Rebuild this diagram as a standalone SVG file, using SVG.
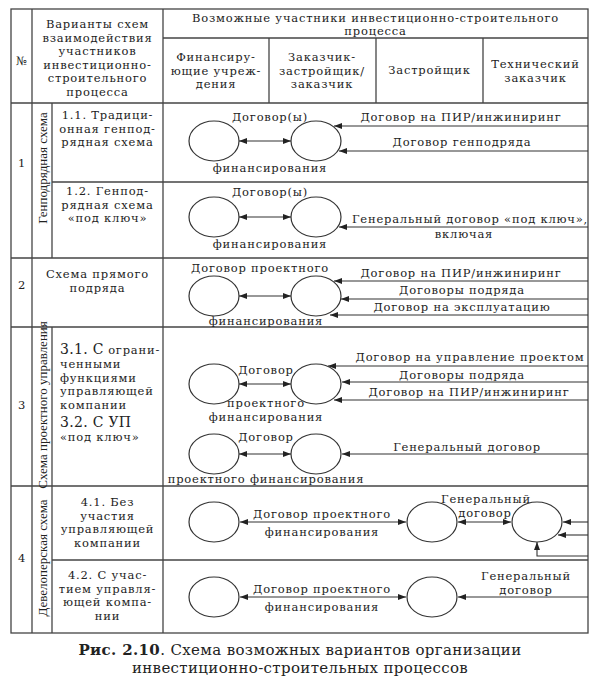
<svg xmlns="http://www.w3.org/2000/svg" width="609" height="676" viewBox="0 0 609 676">
<defs>
<style>
.g{stroke:#444;stroke-width:1.3;fill:none}
.c{stroke:#333;stroke-width:1.2;fill:#fff}
.a{stroke:#333;stroke-width:1.1;fill:none}
text{font-family:"DejaVu Serif","Liberation Serif",serif;font-size:11.5px;letter-spacing:0.8px;fill:#222;text-anchor:middle}
.l{text-anchor:start}
.rt{font-family:"Liberation Serif","DejaVu Serif",serif;font-size:13px;letter-spacing:0}
.big{font-size:14px;letter-spacing:0.3px}
.cap{font-size:15px;letter-spacing:0.35px}
</style>
<marker id="ah" viewBox="0 0 8 6" refX="8" refY="3" markerWidth="8" markerHeight="6" markerUnits="userSpaceOnUse" orient="auto-start-reverse">
<path d="M0,0 L8,3 L0,6 z" fill="#222"/>
</marker>
</defs>
<rect width="609" height="676" fill="#fff"/>
<g id="table" class="g">
<rect x="11" y="9" width="577" height="624"/>
<line x1="32" y1="9" x2="32" y2="633"/>
<line x1="163" y1="9" x2="163" y2="633"/>
<line x1="163" y1="38" x2="588" y2="38"/>
<line x1="269" y1="38" x2="269" y2="103"/>
<line x1="376" y1="38" x2="376" y2="103"/>
<line x1="483" y1="38" x2="483" y2="103"/>
<line x1="11" y1="103" x2="588" y2="103"/>
<line x1="52" y1="103" x2="52" y2="258"/>
<line x1="52" y1="182" x2="588" y2="182"/>
<line x1="11" y1="258" x2="588" y2="258"/>
<line x1="11" y1="327" x2="588" y2="327"/>
<line x1="52" y1="327" x2="52" y2="633"/>
<line x1="11" y1="486" x2="588" y2="486"/>
<line x1="52" y1="560" x2="588" y2="560"/>
</g>
<g id="header">
<text x="375.5" y="21.5">Возможные участники инвестиционно-строительного</text>
<text x="375.5" y="35">процесса</text>
<text x="97.5" y="28">Варианты схем</text>
<text x="97.5" y="41.5">взаимодействия</text>
<text x="97.5" y="55">участников</text>
<text x="97.5" y="68.5">инвестиционно-</text>
<text x="97.5" y="82">строительного</text>
<text x="97.5" y="95.5">процесса</text>
<text x="21.5" y="65">№</text>
<text x="216" y="61">Финансиру-</text>
<text x="216" y="74.5">ющие учреж-</text>
<text x="216" y="88">дения</text>
<text x="322" y="61">Заказчик-</text>
<text x="322" y="74.5">застройщик/</text>
<text x="322" y="88">заказчик</text>
<text x="429.5" y="74">Застройщик</text>
<text x="535.5" y="68">Технический</text>
<text x="535.5" y="81.5">заказчик</text>
</g>
<g id="row-labels">
<text x="22" y="167">1</text>
<text class="rt" transform="translate(46.5,168) rotate(-90)">Генподрядная схема</text>
<text x="107.5" y="119">1.1. Традици-</text>
<text x="107.5" y="132.5">онная генпод-</text>
<text x="107.5" y="146">рядная схема</text>
<text x="107.5" y="195">1.2. Генпод-</text>
<text x="107.5" y="208.5">рядная схема</text>
<text x="107.5" y="222">«под ключ»</text>
<text x="22" y="289">2</text>
<text x="97.5" y="278">Схема прямого</text>
<text x="97.5" y="292">подряда</text>
<text x="22" y="409">3</text>
<text class="rt" transform="translate(46.5,405) rotate(-90)">Схема проектного управления</text>
<text class="l" x="60" y="354"><tspan class="big">3.1. С</tspan> ограни-</text>
<text class="l" x="60" y="368">ченными</text>
<text class="l" x="60" y="381.5">функциями</text>
<text class="l" x="60" y="395">управляющей</text>
<text class="l" x="60" y="408.5">компании</text>
<text class="l big" x="60" y="426.5">3.2. С УП</text>
<text class="l" x="60" y="440.5">«под ключ»</text>
<text x="22" y="562">4</text>
<text class="rt" transform="translate(46.5,558) rotate(-90)">Девелоперская схема</text>
<text x="107.5" y="506">4.1. Без</text>
<text x="107.5" y="519.5">участия</text>
<text x="107.5" y="533">управляющей</text>
<text x="107.5" y="546.5">компании</text>
<text x="107.5" y="579">4.2. С учас-</text>
<text x="107.5" y="592.5">тием управля-</text>
<text x="107.5" y="606">ющей компа-</text>
<text x="107.5" y="619.5">нии</text>
</g>
<g id="connectors" class="a">
<line x1="239" y1="141" x2="291" y2="141" marker-start="url(#ah)" marker-end="url(#ah)"/>
<line x1="588" y1="126" x2="334" y2="126" marker-end="url(#ah)"/>
<line x1="588" y1="151" x2="339" y2="151" marker-end="url(#ah)"/>
<line x1="239" y1="217" x2="291" y2="217" marker-start="url(#ah)" marker-end="url(#ah)"/>
<line x1="588" y1="227" x2="339" y2="227" marker-end="url(#ah)"/>
<line x1="239" y1="296" x2="291" y2="296" marker-start="url(#ah)" marker-end="url(#ah)"/>
<line x1="588" y1="281" x2="334" y2="281" marker-end="url(#ah)"/>
<line x1="588" y1="299" x2="341" y2="299" marker-end="url(#ah)"/>
<line x1="588" y1="315" x2="330" y2="315" marker-end="url(#ah)"/>
<line x1="239" y1="384" x2="291" y2="384" marker-start="url(#ah)" marker-end="url(#ah)"/>
<line x1="588" y1="366" x2="328" y2="366" marker-end="url(#ah)"/>
<line x1="588" y1="382" x2="342" y2="382" marker-end="url(#ah)"/>
<line x1="588" y1="400" x2="334" y2="400" marker-end="url(#ah)"/>
<line x1="239" y1="454" x2="291" y2="454" marker-start="url(#ah)" marker-end="url(#ah)"/>
<line x1="588" y1="454" x2="342" y2="454" marker-end="url(#ah)"/>
<line x1="240" y1="522" x2="406" y2="522" marker-start="url(#ah)" marker-end="url(#ah)"/>
<line x1="458" y1="522" x2="511" y2="522" marker-start="url(#ah)" marker-end="url(#ah)"/>
<line x1="588" y1="522" x2="563" y2="522" marker-end="url(#ah)"/>
<line x1="588" y1="535" x2="558" y2="535" marker-end="url(#ah)"/>
<polyline points="588,556 537,556 537,542" marker-end="url(#ah)"/>
<line x1="240" y1="597" x2="406" y2="597" marker-start="url(#ah)" marker-end="url(#ah)"/>
<line x1="588" y1="597" x2="458" y2="597" marker-end="url(#ah)"/>
</g>
<g id="row1-1">
<ellipse class="c" cx="214" cy="141" rx="25" ry="20"/>
<ellipse class="c" cx="316" cy="141" rx="25" ry="20"/>
<text x="270" y="121">Договор(ы)</text>
<text x="270" y="172">финансирования</text>
<text x="461" y="121">Договор на ПИР/инжиниринг</text>
<text x="462" y="146">Договор генподряда</text>
</g>
<g id="row1-2">
<ellipse class="c" cx="214" cy="217" rx="25" ry="20"/>
<ellipse class="c" cx="316" cy="217" rx="25" ry="20"/>
<text x="270" y="196">Договор(ы)</text>
<text x="270" y="248">финансирования</text>
<text x="470" y="223">Генеральный договор «под ключ»,</text>
<text x="464" y="238">включая</text>
</g>
<g id="row2">
<ellipse class="c" cx="214" cy="296" rx="25" ry="20"/>
<ellipse class="c" cx="316" cy="296" rx="25" ry="20"/>
<text x="260" y="272">Договор проектного</text>
<text x="266" y="325">финансирования</text>
<text x="461" y="277">Договор на ПИР/инжиниринг</text>
<text x="462" y="294">Договоры подряда</text>
<text x="462" y="311">Договор на эксплуатацию</text>
</g>
<g id="row3-1">
<ellipse class="c" cx="214" cy="384" rx="25" ry="20"/>
<ellipse class="c" cx="316" cy="384" rx="25" ry="20"/>
<text x="266" y="374">Договор</text>
<text x="266" y="407">проектного</text>
<text x="266" y="420.5">финансирования</text>
<text x="470" y="361">Договор на управление проектом</text>
<text x="462" y="379">Договоры подряда</text>
<text x="469" y="396">Договор на ПИР/инжиниринг</text>
</g>
<g id="row3-2">
<ellipse class="c" cx="214" cy="454" rx="25" ry="20"/>
<ellipse class="c" cx="316" cy="454" rx="25" ry="20"/>
<text x="266" y="441">Договор</text>
<text x="266" y="483">проектного финансирования</text>
<text x="467" y="451">Генеральный договор</text>
</g>
<g id="row4-1">
<ellipse class="c" cx="214" cy="522" rx="25" ry="20"/>
<ellipse class="c" cx="432" cy="522" rx="25" ry="20"/>
<ellipse class="c" cx="537" cy="522" rx="25" ry="20"/>
<text x="322" y="518">Договор проектного</text>
<text x="322" y="536">финансирования</text>
<text x="486" y="503">Генеральный</text>
<text x="485" y="517">договор</text>
</g>
<g id="row4-2">
<ellipse class="c" cx="214" cy="597" rx="25" ry="20"/>
<ellipse class="c" cx="432" cy="597" rx="25" ry="20"/>
<text x="322" y="593">Договор проектного</text>
<text x="322" y="611">финансирования</text>
<text x="526" y="580">Генеральный</text>
<text x="526" y="594">договор</text>
</g>
<g id="caption">
<text class="cap" x="300" y="655"><tspan font-weight="bold">Рис. 2.10</tspan>. Схема возможных вариантов организации</text>
<text class="cap" x="300" y="673">инвестиционно-строительных процессов</text>
</g>
</svg>
